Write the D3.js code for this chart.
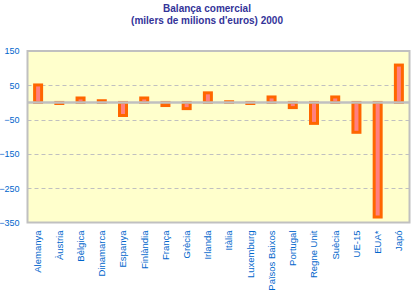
<!DOCTYPE html>
<html>
<head>
<meta charset="utf-8">
<script src="https://cdn.jsdelivr.net/npm/d3@7"></script>
<style>
  body { margin: 0; background: #fff; }
  svg { display: block; }
</style>
</head>
<body>
<svg id="chart" width="413" height="295"></svg>
<script>
var countries = ["Alemanya", "Àustria", "Bèlgica", "Dinamarca", "Espanya", "Finlàndia", "França", "Grècia",
  "Irlanda", "Itàlia", "Luxemburg", "Països Baixos", "Portugal", "Regne Unit", "Suècia", "UE-15", "EUA*", "Japó"];
var balance = [51, -3, 13, 5, -38, 13, -9, -18, 28, 2, -3, 16, -15, -61, 16, -87, -334, 109];
var yTicks = [150, 50, -50, -150, -250, -350];
var titleLines = ["Balança comercial", "(milers de milions d'euros) 2000"];

var font = "Arial, 'Liberation Sans', sans-serif";
var labelBlue = "#0066cc";
var gridGray = "#c0c0c0";

// plot area (note: "top" is reserved on window, so use plot* names)
var plotLeft = 27.5, plotRight = 409.5, plotTop = 51, plotBottom = 222.5;
var svg = d3.select("#chart");

var x = d3.scaleBand().domain(countries).range([plotLeft, plotRight]);
var y = d3.scaleLinear().domain([-350, 150]).range([plotBottom, plotTop]);

// title
svg.selectAll("text.title")
  .data(titleLines)
  .enter().append("text")
  .attr("class", "title")
  .attr("x", 207)
  .attr("y", function (d, i) { return 11.5 + i * 12.5; })
  .attr("text-anchor", "middle")
  .style("font-family", font)
  .style("font-size", "10px")
  .style("font-weight", "bold")
  .style("fill", "#333399")
  .text(function (d) { return d; });

// plot background
svg.append("rect")
  .attr("x", plotLeft).attr("y", plotTop)
  .attr("width", plotRight - plotLeft).attr("height", plotBottom - plotTop)
  .style("fill", "#ffffcc");

// dashed gridlines
svg.selectAll("line.grid")
  .data(yTicks.filter(function (t) { return t != 150 && t != -350; }))
  .enter().append("line")
  .attr("class", "grid")
  .attr("x1", plotLeft).attr("x2", plotRight)
  .attr("y1", function (d) { return Math.round(y(d)) + 0.5; })
  .attr("y2", function (d) { return Math.round(y(d)) + 0.5; })
  .style("stroke", gridGray)
  .style("stroke-width", 1)
  .style("stroke-dasharray", "4,3");

// bars
var barW = 7;
svg.selectAll("rect.bar")
  .data(balance)
  .enter().append("rect")
  .attr("class", "bar")
  .attr("x", function (d, i) { return x(countries[i]) + x.bandwidth() / 2 - barW / 2; })
  .attr("y", function (d) { return Math.min(y(d), y(0)); })
  .attr("width", barW)
  .attr("height", function (d) { return Math.abs(y(d) - y(0)); })
  .style("fill", "#ff8080")
  .style("stroke", "#ff6600")
  .style("stroke-width", 3);

// zero line
svg.append("line")
  .attr("x1", plotLeft).attr("x2", plotRight)
  .attr("y1", y(0)).attr("y2", y(0))
  .style("stroke", gridGray)
  .style("stroke-width", 2.5);

// plot border
svg.append("rect")
  .attr("x", plotLeft).attr("y", plotTop)
  .attr("width", plotRight - plotLeft).attr("height", plotBottom - plotTop)
  .style("fill", "none")
  .style("stroke", gridGray)
  .style("stroke-width", 2);

// y axis labels
var yAxis = d3.axisLeft(y).tickValues(yTicks).tickSize(0).tickPadding(8);
var gy = svg.append("g").attr("transform", "translate(" + plotLeft + ",0)").call(yAxis);
gy.select(".domain").remove();
gy.selectAll("text")
  .style("font-family", font)
  .style("font-size", "9px")
  .style("fill", labelBlue);

// x axis labels (rotated)
var xAxis = d3.axisBottom(x).tickSize(0).tickPadding(0);
var gx = svg.append("g").attr("transform", "translate(0," + plotBottom + ")").call(xAxis);
gx.select(".domain").remove();
gx.selectAll("text")
  .attr("transform", "rotate(-90)")
  .attr("x", -8)
  .attr("y", 0)
  .attr("dy", "0.35em")
  .attr("text-anchor", "end")
  .style("font-family", font)
  .style("font-size", "9.5px")
  .style("fill", labelBlue);
</script>
</body>
</html>
